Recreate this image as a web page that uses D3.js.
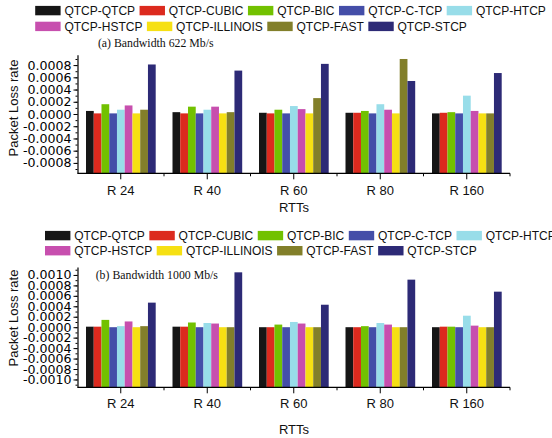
<!DOCTYPE html>
<html>
<head>
<meta charset="utf-8">
<script src="https://cdn.jsdelivr.net/npm/d3@7"></script>
<style>
  body { margin: 0; background: #fff; }
  svg { display: block; }
</style>
</head>
<body>
<svg id="chart" width="552" height="438"></svg>
<script>
// RTT groups on the x axis
const categories = ["R 24", "R 40", "R 60", "R 80", "R 160"];

// TCP pairings, one bar each per group
const series = [
  "QTCP-QTCP", "QTCP-CUBIC", "QTCP-BIC", "QTCP-C-TCP", "QTCP-HTCP",
  "QTCP-HSTCP", "QTCP-ILLINOIS", "QTCP-FAST", "QTCP-STCP"
];

const colors = [
  "#161616", "#dc2a1e", "#72c100", "#444ea8", "#98dde9",
  "#c74fae", "#f6e013", "#827f2a", "#2d2a76"
];

// packet loss rate, one row per RTT group, in series order
const loss622 = [
  [0.00005, 0.00001, 0.00016, 0.00001, 0.00007, 0.00014, 0.00001, 0.00007, 0.00081],
  [0.00003, 0.00001, 0.00012, 0.00001, 0.00007, 0.00012, 0.00001, 0.00003, 0.00071],
  [0.00002, 0.00001, 0.00007, 0.00001, 0.00013, 0.00008, 0.00001, 0.00026, 0.00082],
  [0.00002, 0.00002, 0.00005, 0.00001, 0.00016, 0.00007, 0.00001, 0.00090, 0.00054],
  [0.00001, 0.00002, 0.00003, 0.00001, 0.00030, 0.00005, 0.00001, 0.00001, 0.00067]
];

const loss1000 = [
  [0.00001, 0.00001, 0.00014, 0.00000, 0.00002, 0.00011, 0.00000, 0.00002, 0.00047],
  [0.00001, 0.00001, 0.00009, 0.00000, 0.00008, 0.00007, 0.00000, 0.00000, 0.00105],
  [0.00000, 0.00000, 0.00005, 0.00000, 0.00010, 0.00007, 0.00000, 0.00000, 0.00043],
  [0.00000, 0.00000, 0.00002, 0.00000, 0.00008, 0.00005, 0.00000, 0.00000, 0.00091],
  [0.00000, 0.00001, 0.00001, 0.00000, 0.00022, 0.00003, 0.00000, 0.00000, 0.00068]
];

// labelled y ticks of each panel
const yTicks622 = [-0.0008, -0.0006, -0.0004, -0.0002, 0, 0.0002, 0.0004, 0.0006, 0.0008];
const yTicks1000 = [-0.0010, -0.0008, -0.0006, -0.0004, -0.0002, 0, 0.0002, 0.0004, 0.0006, 0.0008, 0.0010];

const SANS = "'Liberation Sans', Arial, sans-serif";
const SERIF = "'Liberation Serif', 'Times New Roman', serif";

const AXIS_LEFT = 77.5;
const AXIS_RIGHT = 510;

const svg = d3.select("#chart");

const fmt = (d) => d3.format(".4f")(Math.abs(d) < 1e-12 ? 0 : d).replace("\u2212", "-");

function drawLegend(x0, rowY) {
  const g = svg.append("g");
  let x = x0;
  series.forEach((name, i) => {
    if (i === 5) x = x0;
    const y = rowY[i < 5 ? 0 : 1];
    g.append("rect")
      .attr("x", x)
      .attr("y", y - 4.7)
      .attr("width", 25.4)
      .attr("height", 9.4)
      .attr("fill", colors[i]);
    const t = g.append("text")
      .attr("x", x + 29.2)
      .attr("y", y + 4.2)
      .attr("font-family", SANS)
      .attr("font-size", 12)
      .attr("fill", "#111")
      .text(name);
    x += 29.2 + t.node().getComputedTextLength() + 4.5;
  });
}

function drawPanel(opts) {
  const { data, domainMax, top, bottom, ticks, title, titlePos, yLabelY, catY, rttY } = opts;

  const x = d3.scaleBand().domain(categories).range([AXIS_LEFT, AXIS_RIGHT]);
  const xInner = d3.scaleBand()
    .domain(series)
    .range([8.5, x.bandwidth() - 8.3]);
  const y = d3.scaleLinear().domain([-domainMax, domainMax]).range([bottom, top]);

  const g = svg.append("g");

  // bars rise from the bottom of the axis
  const groups = g.selectAll("g.group")
    .data(categories)
    .join("g")
    .attr("class", "group")
    .attr("transform", (c) => `translate(${x(c)},0)`);

  groups.selectAll("rect")
    .data((c, ci) => data[ci].map((v, si) => ({ v, si })))
    .join("rect")
    .attr("x", (d) => xInner(series[d.si]))
    .attr("width", xInner.bandwidth())
    .attr("y", (d) => y(d.v))
    .attr("height", (d) => bottom - y(d.v))
    .attr("fill", (d) => colors[d.si]);

  // y axis: minor ticks every 0.0001, labels every 0.0002
  const steps = Math.floor(domainMax * 10000 + 1e-9);
  const minor = d3.range(-steps, steps + 1).map((k) => k / 10000);

  g.append("g")
    .attr("transform", `translate(${AXIS_LEFT},0)`)
    .call(d3.axisLeft(y).tickValues(minor).tickSize(2).tickFormat("").tickSizeOuter(0))
    .call((a) => a.select(".domain").remove())
    .call((a) => a.selectAll("line").attr("stroke", "#000"));

  const yAxis = g.append("g")
    .attr("transform", `translate(${AXIS_LEFT},0)`)
    .call(d3.axisLeft(y).tickValues(ticks).tickSize(4).tickPadding(2).tickFormat(fmt).tickSizeOuter(0));
  yAxis.select(".domain").attr("stroke", "#000").attr("stroke-width", 1.2);
  yAxis.selectAll("line").attr("stroke", "#000");
  yAxis.selectAll("text")
    .attr("font-family", "'DejaVu Sans', Verdana, sans-serif")
    .attr("font-size", 12.6)
    .attr("fill", "#000");

  // x axis at the bottom, long ticks at groups, short ones between them
  g.append("line")
    .attr("x1", AXIS_LEFT)
    .attr("x2", AXIS_RIGHT)
    .attr("y1", bottom)
    .attr("y2", bottom)
    .attr("stroke", "#000")
    .attr("stroke-width", 1.2);

  g.selectAll("line.cat")
    .data(categories)
    .join("line")
    .attr("class", "cat")
    .attr("x1", (c) => x(c) + x.bandwidth() / 2)
    .attr("x2", (c) => x(c) + x.bandwidth() / 2)
    .attr("y1", bottom)
    .attr("y2", bottom + 6)
    .attr("stroke", "#000");

  g.selectAll("line.sep")
    .data(categories)
    .join("line")
    .attr("class", "sep")
    .attr("x1", (c) => x(c) + x.bandwidth())
    .attr("x2", (c) => x(c) + x.bandwidth())
    .attr("y1", bottom)
    .attr("y2", bottom + 3)
    .attr("stroke", "#000");

  g.selectAll("text.cat")
    .data(categories)
    .join("text")
    .attr("class", "cat")
    .attr("x", (c) => x(c) + x.bandwidth() / 2)
    .attr("y", catY)
    .attr("text-anchor", "middle")
    .attr("font-family", SANS)
    .attr("font-size", 13)
    .attr("fill", "#111")
    .text((c) => c);

  g.append("text")
    .attr("x", 294)
    .attr("y", rttY)
    .attr("text-anchor", "middle")
    .attr("font-family", SANS)
    .attr("font-size", 13)
    .attr("fill", "#111")
    .text("RTTs");

  g.append("text")
    .attr("transform", `translate(17.5,${yLabelY}) rotate(-90)`)
    .attr("text-anchor", "middle")
    .attr("font-family", SANS)
    .attr("font-size", 13)
    .attr("fill", "#111")
    .text("Packet Loss rate");

  g.append("text")
    .attr("x", titlePos[0])
    .attr("y", titlePos[1])
    .attr("font-family", SERIF)
    .attr("font-size", 11.8)
    .attr("fill", "#111")
    .text(title);
}

drawLegend(35.2, [10.6, 26.4]);
drawPanel({
  data: loss622,
  domainMax: 0.00097,
  top: 54.7,
  bottom: 173.3,
  ticks: yTicks622,
  title: "(a) Bandwidth 622 Mb/s",
  titlePos: [97.9, 46.8],
  yLabelY: 108,
  catY: 195.4,
  rttY: 211.7
});

drawLegend(45, [235.6, 250.7]);
drawPanel({
  data: loss1000,
  domainMax: 0.00115,
  top: 267.1,
  bottom: 387.3,
  ticks: yTicks1000,
  title: "(b) Bandwidth 1000 Mb/s",
  titlePos: [95.7, 278.8],
  yLabelY: 318,
  catY: 408,
  rttY: 433.7
});
</script>
</body>
</html>
